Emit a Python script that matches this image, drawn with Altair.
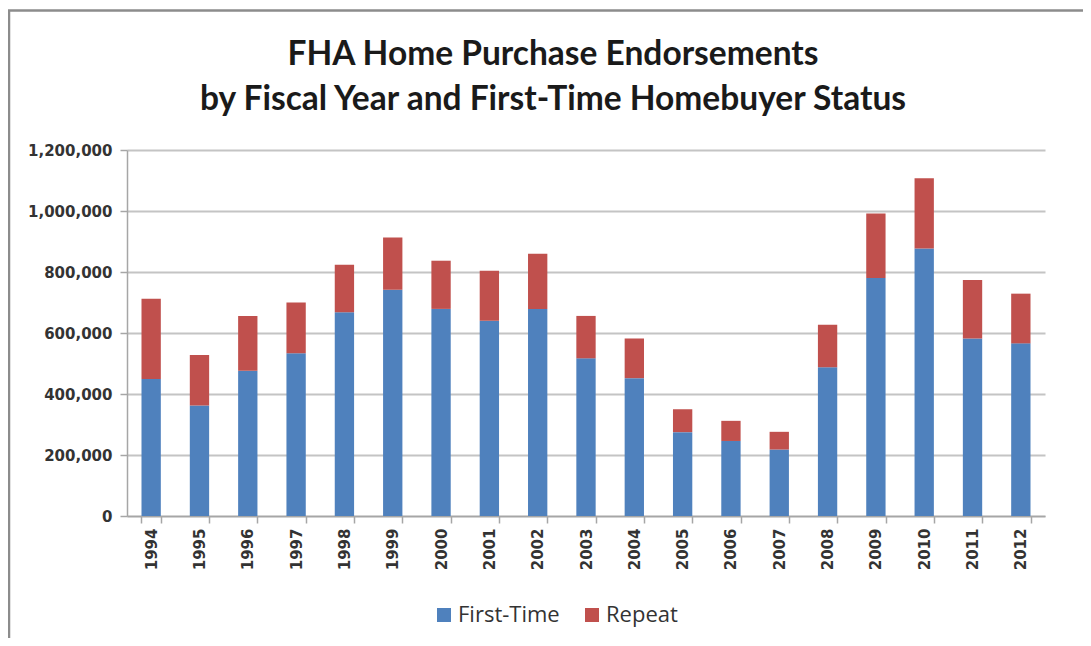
import altair as alt
import pandas as pd

years = ["1994", "1995", "1996", "1997", "1998", "1999", "2000", "2001", "2002", "2003",
         "2004", "2005", "2006", "2007", "2008", "2009", "2010", "2011", "2012"]
first_time = [449000, 362000, 476000, 534000, 668000, 742000, 679000, 640000, 679000, 517000,
              452000, 275000, 246000, 218000, 488000, 780000, 877000, 582000, 566000]
repeat = [263000, 166000, 180000, 166000, 156000, 171000, 158000, 164000, 181000, 139000,
          130000, 75000, 66000, 58000, 139000, 212000, 230000, 192000, 163000]
series = ["First-Time", "Repeat"]
colors = ["#4F81BD", "#C0504D"]
y_ticks = [0, 200000, 400000, 600000, 800000, 1000000, 1200000]
title_lines = ["FHA Home Purchase Endorsements", "by Fiscal Year and First-Time Homebuyer Status"]

rows = []
for i, y in enumerate(years):
    rows.append({"year": y, "series": series[0], "value": first_time[i], "ord": 0})
    rows.append({"year": y, "series": series[1], "value": repeat[i], "ord": 1})
df = pd.DataFrame(rows)

bars = alt.Chart(df).mark_bar().encode(
    x=alt.X("year:N", sort=years,
            scale=alt.Scale(paddingInner=0.6, paddingOuter=0.3),
            axis=alt.Axis(title=None, labelAngle=270, labelAlign="right", labelBaseline="middle",
                          labelFont="DejaVu Sans", labelFontWeight="bold", labelFontSize=15,
                          labelColor="#333333", labelPadding=5, tickBand="extent",
                          tickSize=7, tickColor="#a6a6a6", tickWidth=1.5,
                          domainColor="#a6a6a6", domainWidth=1.5, grid=False)),
    y=alt.Y("value:Q", stack="zero",
            scale=alt.Scale(domain=[0, 1200000], nice=False),
            axis=alt.Axis(title=None, values=y_ticks, format=",d",
                          labelFont="DejaVu Sans", labelFontWeight="bold", labelFontSize=15,
                          labelColor="#333333", labelPadding=8,
                          tickSize=7, tickColor="#a6a6a6", tickWidth=1.5,
                          domainColor="#a6a6a6", domainWidth=1.5,
                          grid=True, gridColor="#c4c4c4", gridWidth=2)),
    color=alt.Color("series:N", scale=alt.Scale(domain=series, range=colors),
                    legend=alt.Legend(title=None, orient="none", legendX=306, legendY=454,
                                      direction="horizontal", symbolType="square",
                                      symbolSize=196, symbolStrokeWidth=0,
                                      labelFont="Open Sans", labelFontSize=22,
                                      labelColor="#333333", labelOffset=3,
                                      columnPadding=21, padding=0)),
    order=alt.Order("ord:Q", sort="ascending"),
)

frame = alt.Chart(pd.DataFrame({"f": [0]})).mark_rect(
    fill=None, stroke="#8c8c8c", strokeWidth=2.5
).encode(
    x=alt.value(-118), x2=alt.value(3000), y=alt.value(-139.5), y2=alt.value(3000)
)

title = alt.Chart(pd.DataFrame({"f": [0]})).mark_text(
    text=title_lines, font="Lato", fontWeight="bold", fontSize=33.5, lineHeight=45,
    color="#1a1a1a", align="center", baseline="alphabetic"
).encode(
    x=alt.value(426), y=alt.value(-85)
)

chart = alt.layer(frame, title, bars).properties(
    width=918,
    height=366,
    padding={"left": 119, "top": 142, "right": 38, "bottom": 122},
    autosize="none",
).configure_view(stroke=None)

chart.save("out.html", embed_options={"renderer": "svg", "actions": False})
